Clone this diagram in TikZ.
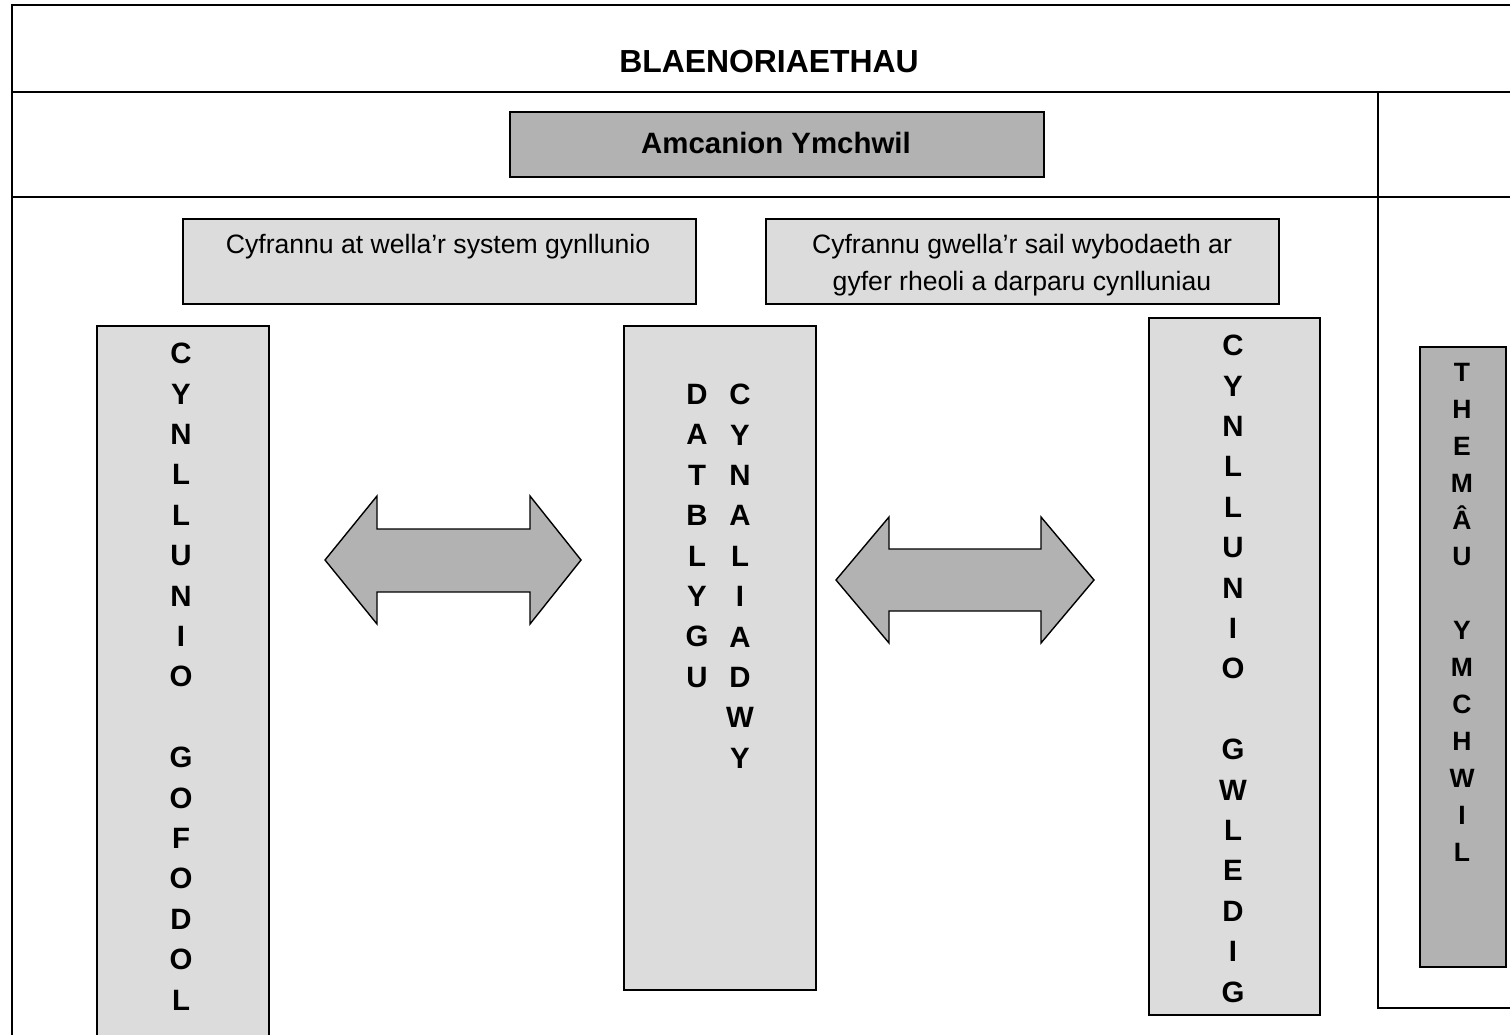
\documentclass[tikz,border=0pt]{standalone}
\usepackage{fontspec}
\setmainfont{Liberation Sans}
\definecolor{lightbox}{HTML}{DCDCDC}
\definecolor{darkbox}{HTML}{B2B2B2}
\begin{document}
\begin{tikzpicture}[x=1pt,y=-1pt,
  tableline/.style={line width=2.2pt},
  lightrect/.style={draw=black,line width=1.6pt,fill=lightbox,inner sep=0pt},
  darkrect/.style={draw=black,line width=1.6pt,fill=darkbox,inner sep=0pt},
  plaintext/.style={inner sep=0pt,align=center,font=\fontsize{26.6}{37}\selectfont},
  boldtext/.style={inner sep=0pt,align=center,font=\fontsize{29.4}{40.4}\selectfont\bfseries},
  lettercol/.style={inner sep=0pt,align=center,anchor=north,font=\fontsize{29.4}{40.4}\selectfont\bfseries},
  smallcol/.style={inner sep=0pt,align=center,anchor=north,font=\fontsize{26.5}{36.9}\selectfont\bfseries},
  bigarrow/.style={draw=black,line width=1.4pt,fill=darkbox,line join=miter}]
\useasboundingbox (0,0) rectangle (1510,1035);
% table frame
\coordinate (tl) at (12,5);
\coordinate (tr) at (1512,5);
\coordinate (bl) at (12,1037);
\draw[tableline] (tr) -- (tl) -- (bl);
\coordinate (r1l) at (12,92);
\coordinate (r1r) at (1512,92);
\draw[tableline] (r1l) -- (r1r);
\coordinate (r2l) at (12,197);
\coordinate (r2r) at (1512,197);
\draw[tableline] (r2l) -- (r2r);
\coordinate (vt) at (1378,92);
\coordinate (vb) at (1378,1008);
\coordinate (vr) at (1512,1008);
\draw[tableline] (vt) -- (vb) -- (vr);
% title
\node[boldtext,font=\fontsize{31.9}{36}\selectfont\bfseries] (title) at (769,62) {BLAENORIAETHAU};
% aims box
\node[darkrect,minimum width=534,minimum height=65] (aims) at (777,144.5) {};
\node[boldtext] (aimstext) at (776,143) {Amcanion Ymchwil};
% contribution boxes
\node[lightrect,minimum width=513,minimum height=85] (c1) at (439.5,261.5) {};
\node[plaintext,anchor=north] (c1t) at (438,234) {Cyfrannu at wella’r system gynllunio};
\node[lightrect,minimum width=513,minimum height=85] (c2) at (1022.5,261.5) {};
\node[plaintext,anchor=north] (c2t) at (1022,234) {Cyfrannu gwella’r sail wybodaeth ar\\gyfer rheoli a darparu cynlluniau};
% column boxes
\node[lightrect,minimum width=172,minimum height=740] (colA) at (183,696) {};
\node[lettercol] (colAt) at (181,343) {C\\Y\\N\\L\\L\\U\\N\\I\\O\\~\\G\\O\\F\\O\\D\\O\\L};
\node[lightrect,minimum width=192,minimum height=664] (colB) at (720,658) {};
\node[lettercol] (colBt1) at (697,384) {D\\A\\T\\B\\L\\Y\\G\\U};
\node[lettercol] (colBt2) at (740,384) {C\\Y\\N\\A\\L\\I\\A\\D\\W\\Y};
\node[lightrect,minimum width=171,minimum height=697] (colC) at (1234.5,666.5) {};
\node[lettercol] (colCt) at (1233,335) {C\\Y\\N\\L\\L\\U\\N\\I\\O\\~\\G\\W\\L\\E\\D\\I\\G};
\node[darkrect,minimum width=86,minimum height=620] (colD) at (1463,657) {};
\node[smallcol] (colDt) at (1462,363) {T\\H\\E\\M\\Â\\U\\~\\Y\\M\\C\\H\\W\\I\\L};
% double arrows
\draw[bigarrow] (325,560) -- (377,496) -- (377,529) -- (530,529) -- (530,496) -- (581,560) -- (530,624) -- (530,592) -- (377,592) -- (377,624) -- cycle;
\draw[bigarrow] (836,580) -- (889,517) -- (889,549) -- (1041,549) -- (1041,517) -- (1094,580) -- (1041,643) -- (1041,611) -- (889,611) -- (889,643) -- cycle;
\end{tikzpicture}
\end{document}
